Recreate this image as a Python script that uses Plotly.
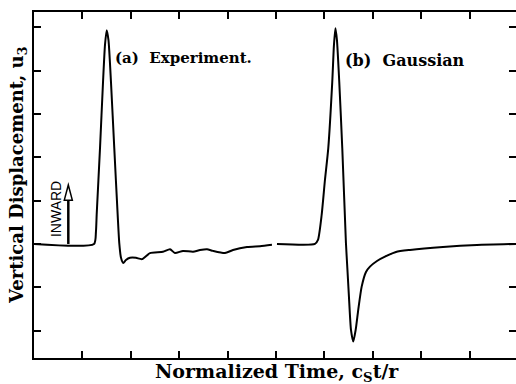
import plotly.graph_objects as go

# (a) Experiment (normalized time, displacement)
exp_t = [0.0, 1.24, 1.28, 1.295, 1.364, 1.426, 1.467, 1.502, 1.539, 1.591, 1.659, 1.729, 1.762,
         1.798, 1.845, 1.90, 1.983, 2.107, 2.231, 2.397, 2.665, 2.81, 2.913, 3.079, 3.285, 3.43,
         3.574, 3.698, 3.946, 4.112, 4.401, 4.67, 4.917]
exp_u = [0.0, 0.0, 0.28, 0.67, 2.21, 3.73, 4.59, 4.93, 4.70, 3.73, 2.21, 0.67, 0.02,
         -0.32, -0.44, -0.37, -0.32, -0.32, -0.35, -0.21, -0.18, -0.12, -0.21, -0.16, -0.18, -0.14,
         -0.12, -0.16, -0.21, -0.14, -0.07, -0.05, -0.02]

# (b) Gaussian
gau_t = [5.021, 5.806, 5.868, 5.944, 6.012, 6.081, 6.163, 6.198, 6.229, 6.260, 6.308, 6.370,
         6.446, 6.477, 6.508, 6.550, 6.597, 6.647, 6.700, 6.771, 6.860, 6.942, 7.087, 7.252,
         7.479, 7.769, 8.450, 9.153, 9.96]
gau_u = [0.0, 0.0, 0.092, 0.668, 1.475, 2.212, 3.733, 4.585, 4.977, 4.700, 3.733, 2.212,
         0.023, -0.599, -1.221, -1.982, -2.251, -1.982, -1.521, -0.984, -0.645, -0.523, -0.392,
         -0.292, -0.184, -0.138, -0.069, -0.023, 0.0]

x_ticks = [1, 2, 3, 4, 5, 6, 7, 8, 9]
y_ticks = [-2, -1, 0, 1, 2, 3, 4, 5]
X_RANGE = [0, 9.96]
Y_RANGE = [-2.63, 5.35]

# INWARD arrow
ARROW_X = 0.709
ARROW_Y0 = 0.0
ARROW_TIP = 1.36
ARROW_BASE = 1.01
ARROW_HW = 0.083

SERIF = "DejaVu Serif, serif"

fig = go.Figure()
line = dict(color="black", width=2, shape="spline", smoothing=0.6)
fig.add_trace(go.Scatter(x=exp_t, y=exp_u, mode="lines", line=line, showlegend=False, hoverinfo="skip"))
fig.add_trace(go.Scatter(x=gau_t, y=gau_u, mode="lines", line=line, showlegend=False, hoverinfo="skip"))
# dummy trace for mirrored tick axes
fig.add_trace(go.Scatter(x=[None], y=[None], xaxis="x2", yaxis="y2", showlegend=False, hoverinfo="skip"))

axis_common = dict(ticks="inside", ticklen=7, tickwidth=1.5, tickcolor="black",
                   showgrid=False, zeroline=False, showticklabels=False)

fig.update_layout(
    width=516, height=384,
    margin=dict(l=34, r=0, t=12, b=26),
    paper_bgcolor="white", plot_bgcolor="white",
    xaxis=dict(range=X_RANGE, tickvals=x_ticks, showline=True, linecolor="black", linewidth=2, **axis_common),
    yaxis=dict(range=Y_RANGE, tickvals=y_ticks, showline=True, linecolor="black", linewidth=2, **axis_common),
    xaxis2=dict(range=X_RANGE, tickvals=x_ticks, overlaying="x", side="top", anchor="y",
                showline=True, linecolor="black", linewidth=2, **axis_common),
    yaxis2=dict(range=Y_RANGE, tickvals=y_ticks, overlaying="y", side="right", anchor="x",
                showline=False, **axis_common),
)

# arrow shaft and hollow head
fig.add_shape(type="line", x0=ARROW_X, x1=ARROW_X, y0=ARROW_Y0, y1=ARROW_BASE,
              line=dict(color="black", width=2.5))
fig.add_shape(type="path",
              path=f"M {ARROW_X - ARROW_HW} {ARROW_BASE} L {ARROW_X} {ARROW_TIP} L {ARROW_X + ARROW_HW} {ARROW_BASE} Z",
              line=dict(color="black", width=1.5), fillcolor="white")

fig.add_annotation(x=0.455, y=0.806, text="INWARD", textangle=-90, showarrow=False,
                   xanchor="center", yanchor="middle",
                   font=dict(family="Liberation Sans", size=14, color="black"))
fig.add_annotation(x=1.632, y=4.29, xanchor="left", text="<b>(a)  Experiment.</b>", showarrow=False,
                   font=dict(family=SERIF, size=15, color="black"))
fig.add_annotation(x=6.384, y=4.24, xanchor="left", text="<b>(b)  Gaussian</b>", showarrow=False,
                   font=dict(family=SERIF, size=16, color="black"))

fig.add_annotation(xref="paper", yref="paper", x=0.504, y=-0.043, xanchor="center", yanchor="middle",
                   text="<b>Normalized Time, c<sub>S</sub>t/r</b>", showarrow=False,
                   font=dict(family=SERIF, size=19, color="black"))
fig.add_annotation(xref="paper", yref="paper", x=-0.033, y=0.529, textangle=-90,
                   xanchor="center", yanchor="middle",
                   text="<b>Vertical Displacement, u<sub>3</sub></b>", showarrow=False,
                   font=dict(family=SERIF, size=18, color="black"))

fig.write_html("out.html")
